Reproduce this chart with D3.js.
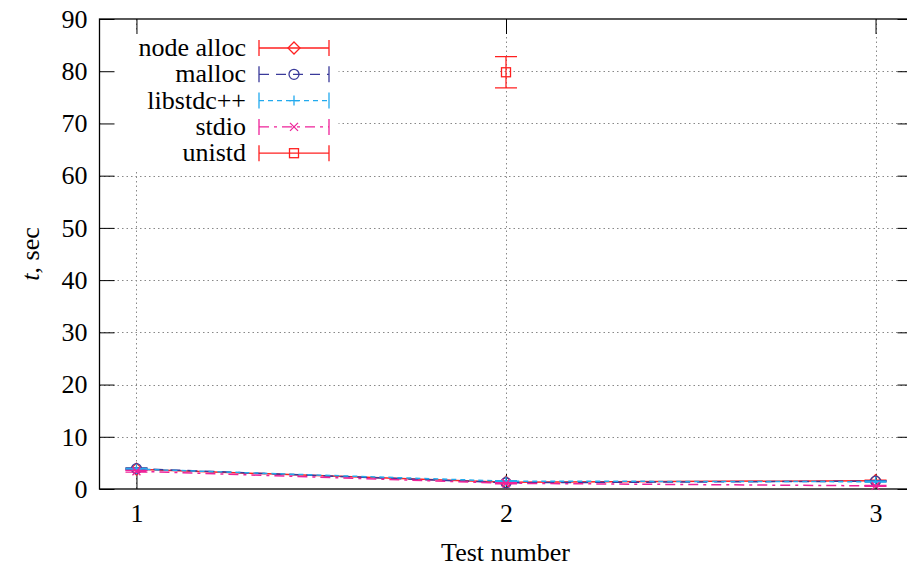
<!DOCTYPE html>
<html>
<head>
<meta charset="utf-8">
<script src="https://cdn.jsdelivr.net/npm/d3@7"></script>
<style>
  body { margin: 0; background: #fff; }
</style>
</head>
<body>
<div id="chart"></div>
<script>
// data
var tests = [1, 2, 3];
var nodeAlloc = [3.8, 1.3, 1.6];
var mallocT = [3.9, 1.2, 1.5];
var libstdc = [3.8, 1.5, 1.4];
var stdio = [3.4, 1.1, 0.6];
var unistdX = [2];
var unistdT = [79.8];
var unistdErr = [3.0];
var smallErr = [0.15, 0.1, 0.1];
var yTicks = [0, 10, 20, 30, 40, 50, 60, 70, 80, 90];

var series = [
  { name: "node alloc", x: tests, y: nodeAlloc, e: smallErr, color: "#ff2020", dash: null, mark: "diamond" },
  { name: "malloc", x: tests, y: mallocT, e: smallErr, color: "#3a3a9a", dash: "10,7", mark: "circle" },
  { name: "libstdc++", x: tests, y: libstdc, e: smallErr, color: "#22aaee", dash: "5,4", mark: "plus" },
  { name: "stdio", x: tests, y: stdio, e: smallErr, color: "#ee2299", dash: "10,5,3,5", mark: "cross" },
  { name: "unistd", x: unistdX, y: unistdT, e: unistdErr, color: "#ff2020", dash: null, mark: "square" }
];

var FONT = "'Liberation Serif', 'Times New Roman', Times, 'DejaVu Serif', serif";

var w = 907, h = 571;
var pL = 99.5, pR = 912.5, pT = 19, pB = 489;

var x = d3.scaleLinear().domain([0.9, 3.1]).range([pL, pR]);
var y = d3.scaleLinear().domain([0, 90]).range([pB, pT]);

var svg = d3.select("#chart").append("svg")
  .attr("width", w)
  .attr("height", h)
  .style("font-family", FONT);

// grid
var grid = svg.append("g")
  .attr("stroke", "#888")
  .attr("stroke-width", 1)
  .attr("stroke-dasharray", "1.5,3");
grid.selectAll("line.gy")
  .data(yTicks.slice(1, -1))
  .enter().append("line")
  .attr("x1", pL).attr("x2", pR)
  .attr("y1", d => Math.round(y(d)) + 0.5)
  .attr("y2", d => Math.round(y(d)) + 0.5);
grid.selectAll("line.gx")
  .data(tests)
  .enter().append("line")
  .attr("x1", d => Math.round(x(d)) + 0.5)
  .attr("x2", d => Math.round(x(d)) + 0.5)
  .attr("y1", pT).attr("y2", pB);

// legend background hides grid
svg.append("rect")
  .attr("x", pL + 1).attr("y", pT + 12)
  .attr("width", 238).attr("height", 140)
  .attr("fill", "#fff");

// axes
var axisLeft = d3.axisLeft(y).tickValues(yTicks).tickSize(-15).tickPadding(12);
var axisRight = d3.axisRight(y).tickValues(yTicks).tickSize(-15).tickFormat("");
var axisBottom = d3.axisBottom(x).tickValues(tests).tickSize(-15).tickPadding(15).tickFormat(d3.format("d"));
var axisTop = d3.axisTop(x).tickValues(tests).tickSize(-15).tickFormat("");

function styleAxis(g) {
  g.attr("font-family", null).attr("font-size", null);
  g.select(".domain").remove();
  g.selectAll("line").attr("stroke", "#000");
  g.selectAll("text").style("font-family", FONT).style("font-size", "26px").attr("fill", "#000");
}

svg.append("g").attr("transform", "translate(" + pL + ",0)").call(axisLeft).call(styleAxis);
svg.append("g").attr("transform", "translate(" + pR + ",0)").call(axisRight).call(styleAxis);
svg.append("g").attr("transform", "translate(0," + pB + ")").call(axisBottom).call(styleAxis);
svg.append("g").attr("transform", "translate(0," + pT + ")").call(axisTop).call(styleAxis);

// border
svg.append("rect")
  .attr("x", pL).attr("y", pT)
  .attr("width", pR - pL).attr("height", pB - pT)
  .attr("fill", "none").attr("stroke", "#000").attr("stroke-width", 1.3);

// markers
function drawMark(g, type, cx, cy, color) {
  var s = 5;
  if (type === "diamond") {
    g.append("path").attr("d", "M" + cx + "," + (cy - s - 1) + "L" + (cx + s + 1) + "," + cy + "L" + cx + "," + (cy + s + 1) + "L" + (cx - s - 1) + "," + cy + "Z")
      .attr("fill", "none").attr("stroke", color).attr("stroke-width", 1.3);
  } else if (type === "circle") {
    g.append("circle").attr("cx", cx).attr("cy", cy).attr("r", s)
      .attr("fill", "none").attr("stroke", color).attr("stroke-width", 1.3);
  } else if (type === "plus") {
    g.append("path").attr("d", "M" + (cx - s) + "," + cy + "H" + (cx + s) + "M" + cx + "," + (cy - s) + "V" + (cy + s))
      .attr("stroke", color).attr("stroke-width", 1.3);
  } else if (type === "cross") {
    g.append("path").attr("d", "M" + (cx - 4) + "," + (cy - 4) + "L" + (cx + 4) + "," + (cy + 4) + "M" + (cx - 4) + "," + (cy + 4) + "L" + (cx + 4) + "," + (cy - 4))
      .attr("stroke", color).attr("stroke-width", 1.3);
  } else if (type === "square") {
    g.append("rect").attr("x", cx - 4.5).attr("y", cy - 4.5).attr("width", 9).attr("height", 9)
      .attr("fill", "none").attr("stroke", color).attr("stroke-width", 1.3);
  }
}

// series
var line = d3.line().x(d => x(d[0])).y(d => y(d[1]));
series.forEach(function(s) {
  var g = svg.append("g");
  var pts = s.x.map((v, i) => [v, s.y[i], s.e[i]]);
  if (pts.length > 1) {
    g.append("path").datum(pts)
      .attr("d", line)
      .attr("fill", "none")
      .attr("stroke", s.color)
      .attr("stroke-width", 1.5)
      .attr("stroke-dasharray", s.dash);
  }
  pts.forEach(function(p) {
    var cx = x(p[0]);
    g.append("path")
      .attr("d", "M" + cx + "," + y(p[1] - p[2]) + "V" + y(p[1] + p[2]) +
        "M" + (cx - 11) + "," + y(p[1] - p[2]) + "H" + (cx + 11) +
        "M" + (cx - 11) + "," + y(p[1] + p[2]) + "H" + (cx + 11))
      .attr("stroke", s.color).attr("stroke-width", 1.3).attr("fill", "none");
    drawMark(g, s.mark, cx, y(p[1]), s.color);
  });
});

// legend
var leg = svg.append("g");
series.forEach(function(s, i) {
  var ly = 48 + i * 26.3;
  leg.append("text")
    .attr("x", 246).attr("y", ly + 8)
    .attr("text-anchor", "end")
    .style("font-family", FONT).style("font-size", "26px")
    .text(s.name);
  leg.append("line")
    .attr("x1", 259).attr("x2", 329).attr("y1", ly).attr("y2", ly)
    .attr("stroke", s.color).attr("stroke-width", 1.3)
    .attr("stroke-dasharray", s.dash);
  leg.append("path")
    .attr("d", "M259," + (ly - 8) + "V" + (ly + 8) + "M329," + (ly - 8) + "V" + (ly + 8))
    .attr("stroke", s.color).attr("stroke-width", 1.3);
  drawMark(leg, s.mark, 294, ly, s.color);
});

// axis titles
svg.append("text")
  .attr("x", (pL + pR) / 2 - 0.5).attr("y", 561)
  .attr("text-anchor", "middle")
  .style("font-family", FONT).style("font-size", "26px")
  .text("Test number");

var yl = svg.append("text")
  .attr("transform", "translate(39," + ((pT + pB) / 2) + ") rotate(-90)")
  .attr("text-anchor", "middle")
  .style("font-family", FONT).style("font-size", "26px");
yl.append("tspan").attr("font-style", "italic").text("t");
yl.append("tspan").text(", sec");
</script>
</body>
</html>
